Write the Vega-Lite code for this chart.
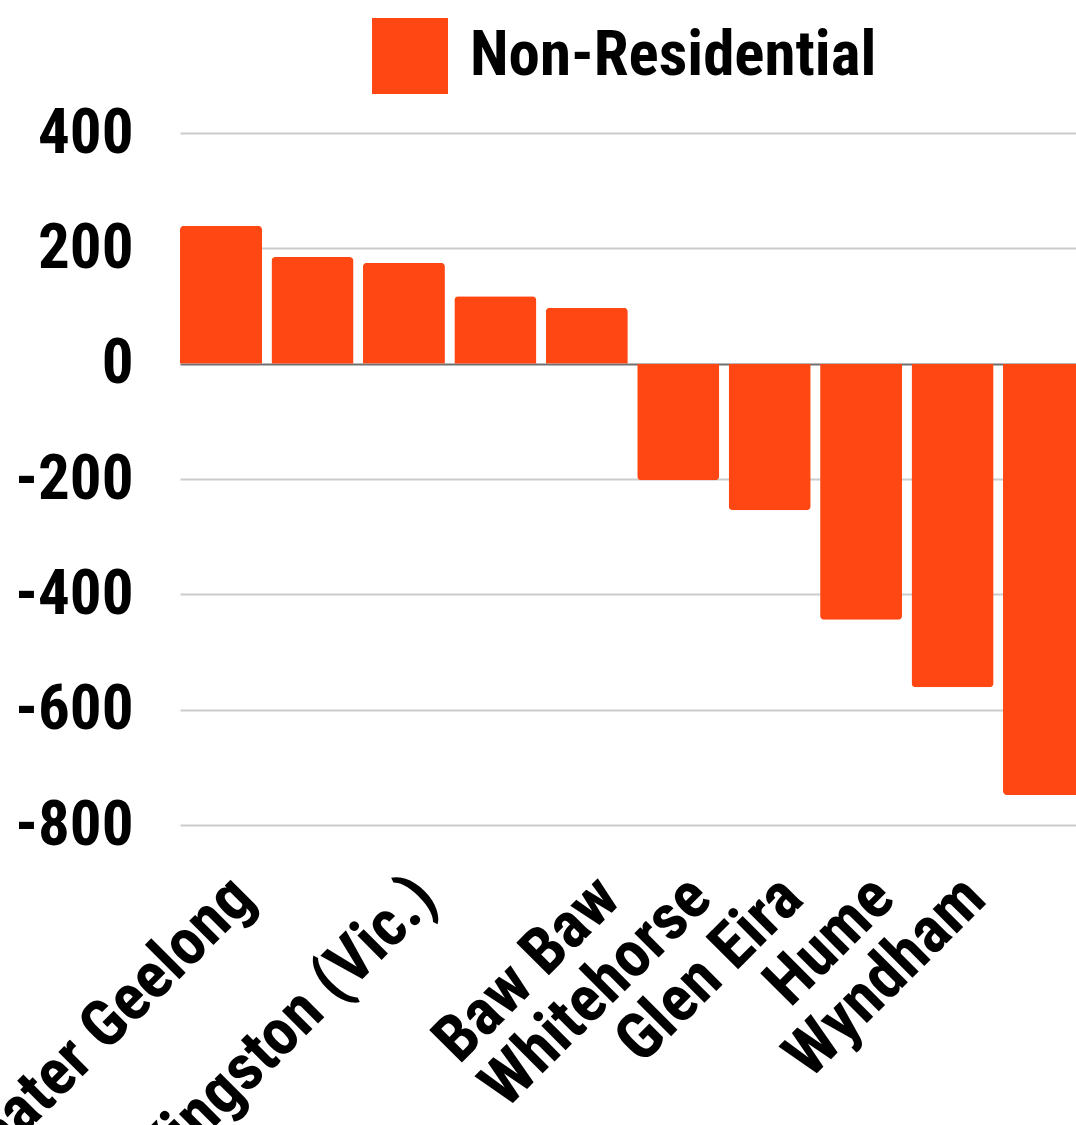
{
  "$schema": "https://vega.github.io/schema/vega-lite/v6.json",
  "width": 896,
  "height": 692,
  "autosize": {"type": "none"},
  "padding": {"left": 180, "top": 133, "right": 0, "bottom": 300},
  "background": "white",
  "data": {
    "values": [
      {"lga": "Greater Geelong", "value": 239},
      {"lga": "Melbourne", "value": 185},
      {"lga": "Kingston (Vic.)", "value": 175},
      {"lga": "Mornington Peninsula", "value": 117},
      {"lga": "Baw Baw", "value": 97},
      {"lga": "Whitehorse", "value": -202},
      {"lga": "Glen Eira", "value": -254},
      {"lga": "Hume", "value": -444},
      {"lga": "Wyndham", "value": -561},
      {"lga": "Casey", "value": -748}
    ]
  },
  "encoding": {
    "x": {
      "field": "lga",
      "type": "nominal",
      "sort": null,
      "title": null,
      "scale": {
        "domain": ["Greater Geelong", "Melbourne", "Kingston (Vic.)", "Mornington Peninsula", "Baw Baw", "Whitehorse", "Glen Eira", "Hume", "Wyndham", "Casey"],
        "range": [0, 905],
        "paddingInner": 0.103,
        "paddingOuter": 0
      },
      "axis": {
        "domain": false,
        "ticks": false,
        "grid": false,
        "labelAngle": -45,
        "labelFont": "Roboto Condensed",
        "labelFontWeight": "bold",
        "labelFontSize": 65,
        "labelColor": "#000000",
        "labelPadding": 40,
        "labelOverlap": false,
        "labelBound": false,
        "labelLimit": 0,
        "labelExpr": "indexof(['Melbourne', 'Mornington Peninsula', 'Casey'], datum.value) >= 0 ? '' : datum.value"
      }
    },
    "y": {
      "field": "value",
      "type": "quantitative",
      "title": null,
      "scale": {"domain": [-800, 400], "nice": false},
      "axis": {
        "values": [-800, -600, -400, -200, 0, 200, 400],
        "domain": false,
        "ticks": false,
        "grid": true,
        "gridColor": {"condition": {"test": "datum.value === 0", "value": "#707070"}, "value": "#cccccc"},
        "gridWidth": 2,
        "labelFont": "Roboto Condensed",
        "labelFontWeight": "bold",
        "labelFontSize": 63,
        "labelColor": "#000000",
        "labelPadding": 47,
        "labelLimit": 0,
        "labelExpr": "'' + datum.value"
      }
    },
    "color": {
      "datum": "Non-Residential",
      "type": "nominal",
      "scale": {"range": ["#ff4713"]},
      "legend": {
        "title": null,
        "orient": "none",
        "legendX": 192,
        "legendY": -115,
        "symbolType": "square",
        "symbolSize": 5776,
        "symbolStrokeWidth": 0,
        "symbolOpacity": 1,
        "labelFont": "Roboto Condensed",
        "labelFontWeight": "bold",
        "labelFontSize": 63,
        "labelColor": "#000000",
        "labelOffset": 22,
        "labelLimit": 0
      }
    }
  },
  "layer": [
    {
      "transform": [{"filter": "datum.value >= 0"}],
      "mark": {"type": "bar", "cornerRadiusTopLeft": 4, "cornerRadiusTopRight": 4}
    },
    {
      "transform": [{"filter": "datum.value < 0"}],
      "mark": {"type": "bar", "cornerRadiusBottomLeft": 4, "cornerRadiusBottomRight": 4}
    }
  ],
  "config": {
    "view": {"stroke": null}
  }
}
